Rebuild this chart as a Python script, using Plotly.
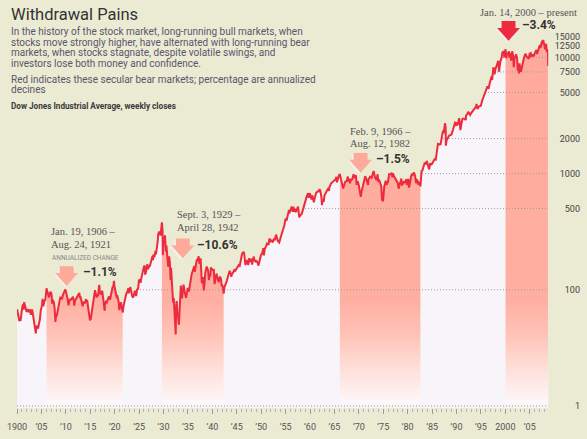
import plotly.graph_objects as go

# ---------------- data (Dow Jones Industrial Average) ----------------
dow_1900s = [(1900.00, 68.1), (1900.10, 66), (1900.20, 63), (1900.30, 59), (1900.47, 53.7), (1900.60, 56),
             (1900.72, 54), (1900.85, 62), (1900.97, 70.7), (1901.10, 72), (1901.25, 75), (1901.35, 67.4),
             (1901.46, 78.3), (1901.60, 72), (1901.75, 70), (1901.95, 64.6), (1902.10, 66), (1902.30, 67.8),
             (1902.50, 64), (1902.70, 67.7), (1902.85, 61), (1902.97, 64.3), (1903.10, 67.7), (1903.30, 60),
             (1903.50, 53), (1903.65, 49), (1903.85, 42.2), (1903.97, 49.1), (1904.15, 47), (1904.30, 46.4),
             (1904.50, 51), (1904.70, 56), (1904.85, 66), (1904.97, 69.6), (1905.10, 73), (1905.25, 83.8),
             (1905.40, 72), (1905.60, 80), (1905.80, 82), (1905.97, 96.2), (1906.05, 103), (1906.20, 97),
             (1906.35, 92), (1906.55, 86), (1906.70, 92), (1906.85, 96), (1906.97, 94.4), (1907.10, 89),
             (1907.20, 76), (1907.35, 82), (1907.55, 78), (1907.70, 70), (1907.87, 53), (1907.97, 58.8),
             (1908.15, 60), (1908.30, 66), (1908.50, 73), (1908.70, 78), (1908.85, 86), (1908.97, 86),
             (1909.20, 83), (1909.40, 90), (1909.60, 97), (1909.85, 100.5), (1909.97, 99)]
dow_1910s = [(1910.10, 95), (1910.20, 88), (1910.35, 84), (1910.55, 73.6), (1910.70, 80), (1910.85, 84),
             (1910.97, 81.4), (1911.20, 84), (1911.45, 87), (1911.60, 82), (1911.72, 73), (1911.85, 80),
             (1911.97, 82), (1912.20, 85), (1912.40, 90), (1912.60, 91), (1912.75, 94), (1912.90, 85),
             (1912.97, 88), (1913.15, 82), (1913.30, 78), (1913.45, 72.1), (1913.60, 79), (1913.80, 76),
             (1913.97, 78.8), (1914.10, 83), (1914.25, 80), (1914.40, 80), (1914.55, 71.4), (1914.95, 54.6),
             (1915.10, 56), (1915.25, 62), (1915.40, 68), (1915.55, 73), (1915.70, 81), (1915.85, 94),
             (1915.97, 99.2), (1916.15, 92), (1916.30, 86), (1916.45, 89), (1916.60, 88), (1916.75, 103),
             (1916.85, 110.2), (1916.97, 95), (1917.10, 93), (1917.25, 91), (1917.45, 98), (1917.60, 90),
             (1917.75, 78), (1917.95, 66), (1918.00, 74), (1918.20, 79), (1918.40, 78), (1918.55, 82),
             (1918.75, 85), (1918.85, 88), (1918.97, 82.2), (1919.10, 84), (1919.30, 93), (1919.45, 107),
             (1919.60, 107), (1919.70, 105), (1919.85, 119.6), (1919.97, 107)]
dow_1920s = [(1920.10, 101), (1920.25, 94), (1920.40, 87), (1920.55, 88), (1920.70, 84), (1920.85, 76),
             (1920.95, 66.8), (1921.10, 75), (1921.30, 78), (1921.45, 70), (1921.65, 63.9), (1921.80, 72),
             (1921.97, 81.1), (1922.20, 86), (1922.40, 93), (1922.60, 96), (1922.80, 103.4), (1922.90, 93),
             (1922.97, 98.7), (1923.20, 105.4), (1923.40, 96), (1923.60, 88), (1923.80, 85.8), (1923.97, 95.5),
             (1924.15, 98), (1924.40, 88.3), (1924.60, 101), (1924.80, 102), (1924.97, 120.5), (1925.20, 122),
             (1925.30, 115), (1925.50, 128), (1925.70, 142), (1925.85, 151), (1925.97, 156.7), (1926.15, 162),
             (1926.25, 135.2), (1926.40, 142), (1926.60, 160), (1926.70, 166.6), (1926.85, 150), (1926.97, 157.2),
             (1927.20, 160), (1927.40, 170), (1927.60, 185), (1927.75, 195), (1927.85, 180), (1927.97, 202.4),
             (1928.15, 191.3), (1928.35, 216), (1928.45, 202), (1928.60, 218), (1928.80, 258), (1928.90, 295),
             (1928.97, 300), (1929.10, 317), (1929.20, 297), (1929.30, 319), (1929.40, 293), (1929.50, 340),
             (1929.67, 381.2), (1929.80, 325), (1929.87, 198.7), (1929.97, 248.5)]
dow_1930s = [(1930.15, 270), (1930.30, 294), (1930.45, 230), (1930.50, 213), (1930.60, 240), (1930.75, 200),
             (1930.95, 158), (1931.15, 194), (1931.30, 172), (1931.45, 121), (1931.55, 155), (1931.70, 120),
             (1931.80, 96), (1931.97, 77.9), (1932.10, 85), (1932.25, 62), (1932.40, 45), (1932.50, 41.2),
             (1932.60, 73), (1932.70, 79.9), (1932.85, 61), (1932.97, 60), (1933.15, 50.2), (1933.30, 62),
             (1933.45, 88), (1933.55, 108.7), (1933.65, 90), (1933.80, 84.4), (1933.97, 99.9), (1934.10, 110.7),
             (1934.30, 98), (1934.45, 92), (1934.60, 85.5), (1934.80, 94), (1934.97, 104), (1935.20, 96.7),
             (1935.40, 111), (1935.60, 122), (1935.80, 139), (1935.97, 144.1), (1936.15, 156), (1936.30, 160),
             (1936.40, 143), (1936.60, 163), (1936.80, 180), (1936.97, 179.9), (1937.20, 194.4), (1937.35, 170),
             (1937.45, 168), (1937.60, 187), (1937.75, 140), (1937.85, 114), (1937.97, 121), (1938.10, 129),
             (1938.25, 99), (1938.40, 112), (1938.55, 141), (1938.85, 158.4), (1938.97, 154.8), (1939.15, 145),
             (1939.30, 121.4), (1939.45, 136), (1939.60, 131), (1939.70, 155.9), (1939.85, 150), (1939.97, 150.2)]
dow_1940s = [(1940.15, 147), (1940.30, 148), (1940.45, 112), (1940.60, 124), (1940.85, 138), (1940.97, 131.1),
             (1941.15, 122), (1941.30, 116), (1941.55, 130), (1941.75, 125), (1941.93, 107), (1941.97, 111),
             (1942.15, 106), (1942.32, 92.9), (1942.50, 106), (1942.70, 110), (1942.97, 119.4), (1943.20, 130),
             (1943.55, 145.8), (1943.75, 138), (1943.90, 129.6), (1943.97, 135.9), (1944.20, 139), (1944.50, 148),
             (1944.70, 146), (1944.97, 152.3), (1945.20, 160), (1945.40, 163), (1945.60, 161), (1945.80, 182),
             (1945.97, 192.9), (1946.10, 205), (1946.40, 212.5), (1946.55, 200), (1946.70, 172), (1946.80, 163.1),
             (1946.97, 177.2), (1947.20, 178), (1947.35, 163), (1947.55, 186.9), (1947.75, 178), (1947.97, 181.2),
             (1948.15, 165), (1948.45, 193.2), (1948.60, 182), (1948.85, 173), (1948.97, 177.3), (1949.20, 175),
             (1949.45, 161.6), (1949.70, 180), (1949.97, 200.1)]
dow_1950s = [(1950.20, 205), (1950.45, 228.4), (1950.55, 197.5), (1950.75, 226), (1950.97, 235.4), (1951.20, 250),
             (1951.50, 244), (1951.70, 276.4), (1951.85, 257), (1951.97, 269.2), (1952.20, 262), (1952.40, 256.4),
             (1952.60, 276), (1952.80, 267), (1952.97, 291.9), (1953.10, 293.8), (1953.40, 263), (1953.70, 255.5),
             (1953.97, 280.9), (1954.25, 305), (1954.50, 336), (1954.75, 360), (1954.97, 404.4), (1955.10, 408),
             (1955.25, 404), (1955.50, 460), (1955.70, 487), (1955.75, 455), (1955.97, 488.4), (1956.25, 521),
             (1956.45, 470), (1956.60, 518), (1956.80, 468.7), (1956.97, 499.5), (1957.10, 465), (1957.55, 520.8),
             (1957.80, 419.8), (1957.97, 435.7), (1958.30, 450), (1958.60, 505), (1958.97, 583.7), (1959.30, 630),
             (1959.60, 678), (1959.75, 620), (1959.97, 679.4)]
dow_1960s = [(1960.10, 622), (1960.30, 600), (1960.45, 650), (1960.60, 620), (1960.80, 566), (1960.97, 615.9),
             (1961.25, 680), (1961.50, 700), (1961.75, 700), (1961.95, 734.9), (1962.15, 700), (1962.35, 620),
             (1962.45, 535.8), (1962.60, 600), (1962.80, 570), (1962.97, 652.1), (1963.20, 680), (1963.50, 706),
             (1963.75, 750), (1963.90, 710), (1963.97, 762.9), (1964.30, 820), (1964.50, 840), (1964.97, 874.1),
             (1965.30, 900), (1965.40, 939), (1965.50, 840.6), (1965.75, 930), (1965.97, 969.3), (1966.10, 995.2),
             (1966.30, 900), (1966.45, 880), (1966.60, 810), (1966.78, 744.3), (1966.97, 785.7), (1967.20, 850),
             (1967.50, 860), (1967.75, 943), (1967.90, 860), (1967.97, 905.1), (1968.20, 825.1), (1968.40, 900),
             (1968.60, 880), (1968.92, 985.2), (1969.10, 920), (1969.40, 968), (1969.55, 801), (1969.75, 860),
             (1969.97, 800.4)]
dow_1970s = [(1970.10, 750), (1970.30, 700), (1970.40, 631.2), (1970.55, 700), (1970.75, 760), (1970.97, 838.9),
             (1971.30, 950.8), (1971.60, 880), (1971.90, 798), (1971.97, 890.2), (1972.30, 940), (1972.60, 920),
             (1972.85, 1003), (1972.97, 1020), (1973.03, 1051.7), (1973.30, 930), (1973.60, 880), (1973.85, 987),
             (1973.90, 860), (1973.97, 850.9), (1974.20, 870), (1974.30, 847), (1974.60, 780), (1974.75, 584.6),
             (1974.85, 660), (1974.95, 577.6), (1975.20, 770), (1975.50, 870), (1975.70, 800), (1975.97, 852.4),
             (1976.20, 990), (1976.50, 990), (1976.75, 1014.8), (1976.85, 930), (1976.97, 1004.7), (1977.20, 950),
             (1977.40, 920), (1977.70, 870), (1977.97, 831.2), (1978.15, 742.1), (1978.45, 840), (1978.70, 907.7),
             (1978.85, 792.5), (1978.97, 805), (1979.20, 850), (1979.40, 840), (1979.75, 897), (1979.85, 796.7),
             (1979.97, 838.7)]
dow_1980s = [(1980.10, 900), (1980.30, 759.1), (1980.50, 870), (1980.70, 950), (1980.90, 1000.2), (1980.97, 964),
             (1981.30, 1024), (1981.50, 960), (1981.75, 824), (1981.90, 880), (1981.97, 875), (1982.20, 800),
             (1982.40, 850), (1982.61, 776.9), (1982.70, 950), (1982.85, 1065), (1982.97, 1046.5), (1983.20, 1130),
             (1983.50, 1248), (1983.70, 1200), (1983.90, 1287), (1983.97, 1258.6), (1984.20, 1160), (1984.40, 1086.9),
             (1984.60, 1224), (1984.80, 1200), (1984.97, 1211.6), (1985.20, 1280), (1985.50, 1330), (1985.75, 1320),
             (1985.97, 1546.7), (1986.20, 1800), (1986.45, 1780), (1986.60, 1790), (1986.70, 1760), (1986.85, 1900),
             (1986.97, 1896), (1987.20, 2300), (1987.40, 2280), (1987.65, 2722.4), (1987.78, 2480), (1987.81, 1738.7),
             (1987.97, 1938.8), (1988.20, 2050), (1988.50, 2130), (1988.80, 2150), (1988.97, 2168.6), (1989.30, 2400),
             (1989.60, 2700), (1989.75, 2791), (1989.80, 2570), (1989.97, 2753.2)]
dow_1990s = [(1990.10, 2600), (1990.30, 2700), (1990.55, 2999.8), (1990.80, 2365.1), (1990.97, 2633.7),
             (1991.20, 2950), (1991.50, 2980), (1991.90, 2900), (1991.97, 3168.8), (1992.20, 3250), (1992.40, 3400),
             (1992.80, 3200), (1992.97, 3301.1), (1993.30, 3450), (1993.60, 3550), (1993.97, 3754.1), (1994.10, 3978),
             (1994.30, 3590), (1994.60, 3780), (1994.97, 3834.4), (1995.30, 4300), (1995.50, 4550), (1995.80, 4800),
             (1995.97, 5117.1), (1996.30, 5600), (1996.50, 5650), (1996.55, 5350), (1996.80, 6000), (1996.97, 6448.3),
             (1997.20, 6900), (1997.30, 6390), (1997.55, 8222), (1997.70, 7700), (1997.80, 7161), (1997.97, 7908.3),
             (1998.30, 9000), (1998.55, 9338), (1998.70, 7539), (1998.85, 8900), (1998.97, 9181.4), (1999.25, 10000),
             (1999.38, 11000), (1999.65, 11300), (1999.80, 10019), (1999.97, 11497)]
dow_2000s = [(2000.04, 11723), (2000.20, 9796), (2000.30, 11000), (2000.50, 10500), (2000.70, 11310),
             (2000.80, 10000), (2000.97, 10787), (2001.05, 10950), (2001.20, 9389), (2001.40, 11300),
             (2001.60, 10300), (2001.72, 8236), (2001.85, 9600), (2001.97, 10021), (2002.20, 10635), (2002.40, 9900),
             (2002.55, 7700), (2002.62, 8800), (2002.78, 7286), (2002.90, 8900), (2002.97, 8341), (2003.20, 7524),
             (2003.50, 9100), (2003.70, 9500), (2003.97, 10453), (2004.15, 10737), (2004.40, 10100), (2004.60, 9800),
             (2004.80, 9750), (2004.97, 10783), (2005.20, 10900), (2005.30, 10100), (2005.50, 10500), (2005.70, 10500),
             (2005.80, 10200), (2005.97, 10718), (2006.35, 11600), (2006.50, 10700), (2006.80, 12100), (2006.97, 12463),
             (2007.15, 12786), (2007.20, 12050), (2007.40, 13300), (2007.55, 13900), (2007.62, 13000), (2007.78, 14165),
             (2007.90, 12900), (2007.97, 13265), (2008.05, 12100), (2008.20, 11740), (2008.35, 13058), (2008.50, 11100),
             (2008.65, 11700), (2008.72, 11400), (2008.78, 8451)]

# secular bear markets
bear_start = [1906.05, 1929.67, 1966.11, 2000.04]
bear_end = [1921.65, 1942.32, 1982.61, 2008.78]
bear_dates = [["Jan. 19, 1906 \u2013", "Aug. 24, 1921"],
              ["Sept. 3, 1929 \u2013", "April 28, 1942"],
              ["Feb. 9, 1966 \u2013", "Aug. 12, 1982"],
              ["Jan. 14, 2000 \u2013 present"]]
bear_change = ["\u20131.1%", "\u201310.6%", "\u20131.5%", "\u20133.4%"]

y_tickvals = [10, 100, 500, 1000, 2000, 5000, 7500, 10000, 12500, 15000]
y_ticktext = ["1", "100", "500", "1000", "2000", "5000", "7500", "10000", "12500", "15000"]
x_tickvals = list(range(1900, 2010, 5))
x_ticktext = ["1900", "\u201905", "\u201910", "\u201915", "\u201920", "\u201925", "\u201930", "\u201935",
              "\u201940", "\u201945", "\u201950", "\u201955", "\u201960", "\u201965", "\u201970", "\u201975",
              "\u201980", "\u201985", "\u201990", "\u201995", "2000", "\u201905"]

# ---------------- build ----------------
series = dow_1900s + dow_1910s + dow_1920s + dow_1930s + dow_1940s + dow_1950s + dow_1960s + dow_1970s + dow_1980s + dow_1990s + dow_2000s
years = [d for d, _ in series]
dow = [v for _, v in series]

BEIGE = "#ebead3"
LAVENDER = "#f7f5fa"
RED = "#ee2a3e"
PINK = "#ffa99b"

W, H = 587, 439
ML, MR, MT, MB = 13, 7, 20, 25
PLOT_W = W - ML - MR
PLOT_H = H - MT - MB
X_END_PX = 548
Y_LOG_BOTTOM = 0.983
Y_LOG_TOP = Y_LOG_BOTTOM + PLOT_H / 118.0
BASE = 10.3
TOP = 10 ** Y_LOG_TOP


def px(x):
    return (x - ML) / PLOT_W


def py(y):
    return (H - MB - y) / PLOT_H


fig = go.Figure()

# pink bear-market bands (gradient, pink at top fading to white at bottom)
for s, e in zip(bear_start, bear_end):
    fig.add_trace(go.Scatter(
        x=[s, e, e, s, s], y=[BASE, BASE, TOP, TOP, BASE], mode="lines", line=dict(width=0),
        fill="toself", hoverinfo="skip", showlegend=False,
        fillgradient=dict(type="vertical",
                          colorscale=[[0, "#fcf8fa"], [0.02, "#fdf3f3"], [0.1, "#ffddd6"],
                                      [0.18, "#ffc3b7"], [0.27, "#ffafa1"], [1, PINK]])))

# dotted grid lines
gx, gy = [], []
for v in y_tickvals:
    gx += [1900, bear_end[-1], None]
    gy += [v, v, None]
fig.add_trace(go.Scatter(x=gx, y=gy, mode="lines", line=dict(color="#9c9a9c", width=1, dash="1px,2px"),
                         hoverinfo="skip", showlegend=False))

# beige mask above the curve
fig.add_trace(go.Scatter(x=years, y=dow, mode="lines", line=dict(width=0), hoverinfo="skip", showlegend=False))
fig.add_trace(go.Scatter(x=years, y=[TOP * 10] * len(years), mode="lines", line=dict(width=0),
                         fill="tonexty", fillcolor=BEIGE, hoverinfo="skip", showlegend=False))

# the Dow line
fig.add_trace(go.Scatter(x=years, y=dow, mode="lines", line=dict(color=RED, width=2),
                         hoverinfo="skip", showlegend=False))

# ---------------- annotations ----------------
ann = []
shapes = []


def text(x, y, t, size, color, family="Roboto", anchor="left"):
    ann.append(dict(x=px(x), y=py(y), xref="paper", yref="paper", text=t, showarrow=False,
                    xanchor=anchor, yanchor="middle", font=dict(size=size, color=color, family=family)))


text(5, 14, "Withdrawal Pains", 16.5, "#333333")
body = ["In the history of the stock market, long-running bull markets, when",
        "stocks move strongly higher, have alternated with long-running bear",
        "markets, when stocks stagnate, despite volatile swings, and",
        "investors lose both money and confidence."]
for i, line in enumerate(body):
    text(5, 31.5 + 11 * i, line, 10, "#5b566b")
text(5, 80, "Red indicates these secular bear markets; percentage are annualized", 10, "#5b566b")
text(5, 91, "decines", 10, "#5b566b")
text(5, 107, "<b>Dow Jones Industrial Average, weekly closes</b>", 8.2, "#3a3a3a")

# bear market labels
date_pos = [(45, 235), (172, 218), (346, 133), (477, 12)]
arrow_pos = [(63, 270), (180, 242), (359, 155), (508, 21)]
pct_pos = [(77, 276), (192, 248), (373, 161), (520, 25)]
for i in range(4):
    dx, dy = date_pos[i]
    for j, line in enumerate(bear_dates[i]):
        text(dx, dy + 12.5 * j, line, 10.5, "#555555", family="Liberation Serif")
    text(pct_pos[i][0], pct_pos[i][1], "<b>%s</b>" % bear_change[i], 12, "#333333")
    cx, ty = arrow_pos[i]
    color = RED if i == 3 else PINK

    def arrow_path(ox, oy):
        pts = [(cx - 7, ty), (cx + 7, ty), (cx + 7, ty + 7), (cx + 11.5, ty + 7), (cx, ty + 20),
               (cx - 11.5, ty + 7), (cx - 7, ty + 7)]
        return "M " + " L ".join("%.5f,%.5f" % (px(a + ox), py(b + oy)) for a, b in pts) + " Z"

    shapes.append(dict(type="path", xref="paper", yref="paper", path=arrow_path(-1.5, 1.5),
                       fillcolor="#f4f2ee", line=dict(width=0), layer="above"))
    shapes.append(dict(type="path", xref="paper", yref="paper", path=arrow_path(0, 0),
                       fillcolor=color, line=dict(width=0), layer="above"))

text(46, 262, "ANNUALIZED CHANGE", 6.5, "#888888")

x_end_domain = (X_END_PX - ML) / PLOT_W

fig.update_layout(
    width=W, height=H,
    margin=dict(l=ML, r=MR, t=MT, b=MB, pad=0),
    paper_bgcolor=BEIGE, plot_bgcolor=LAVENDER,
    showlegend=False,
    annotations=ann, shapes=shapes,
    xaxis=dict(domain=[0, x_end_domain], range=[1900, bear_end[-1]], showgrid=False, zeroline=False,
               showline=False, tickmode="array", tickvals=x_tickvals, ticktext=x_ticktext,
               ticks="outside", ticklen=5, tickcolor="#9a9a9a", tickwidth=1,
               tickfont=dict(size=9, color="#555555", family="Roboto"), ticklabelstandoff=5,
               minor=dict(tickmode="linear", tick0=1900, dtick=1, ticks="outside", ticklen=3,
                          tickcolor="#b0b0b0", showgrid=False)),
    yaxis=dict(type="log", range=[Y_LOG_BOTTOM, Y_LOG_TOP], anchor="free", position=1, side="left",
               showgrid=False, zeroline=False, showline=False, tickmode="array", tickvals=y_tickvals,
               ticktext=y_ticktext, ticks="", tickfont=dict(size=9, color="#444444", family="Roboto")),
)

fig.write_html("out.html")
